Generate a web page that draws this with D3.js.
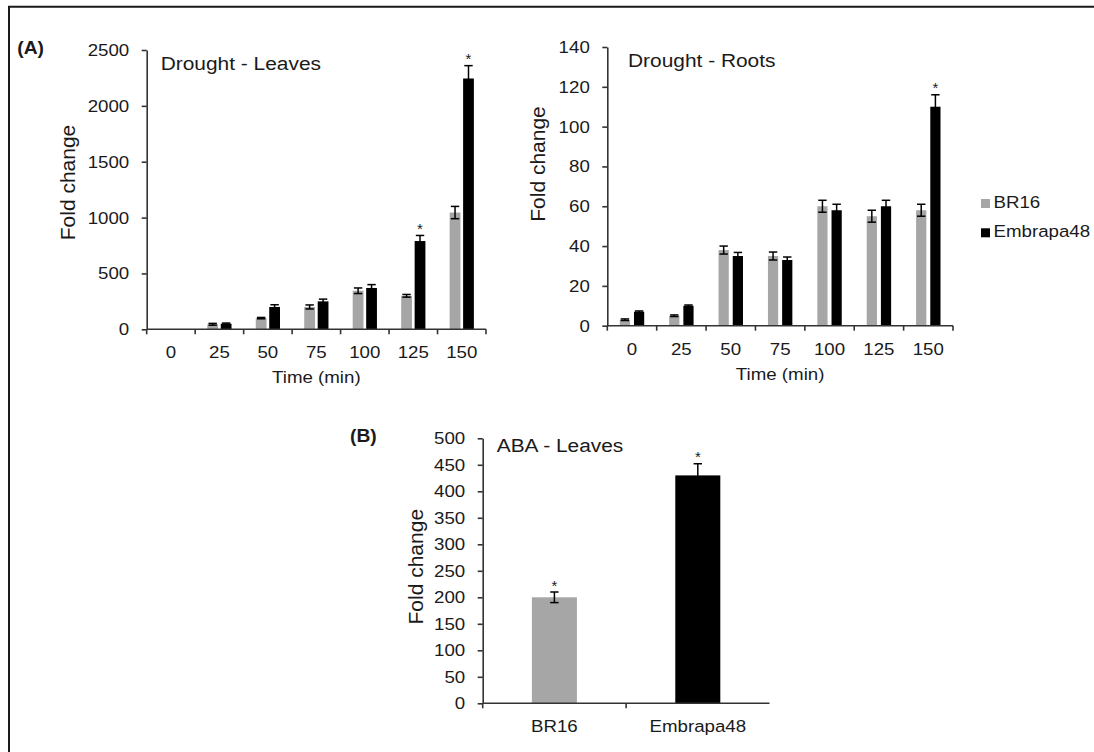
<!DOCTYPE html>
<html>
<head>
<meta charset="utf-8">
<script src="https://cdn.jsdelivr.net/npm/d3@7"></script>
<style>
  body { margin: 0; background: #fff; }
  text { font-family: "Liberation Sans", Arial, sans-serif; fill: #1a1a1a; }
</style>
</head>
<body>
<script>
// data
const times = ["0", "25", "50", "75", "100", "125", "150"];
const series = ["BR16", "Embrapa48"];

const leavesBR16 = [1, 45, 100, 200, 345, 300, 1045];
const leavesBR16Err = [0, 8, 6, 18, 25, 12, 55];
const leavesEmb = [1, 50, 200, 250, 370, 790, 2245];
const leavesEmbErr = [0, 6, 20, 20, 30, 50, 115];
const leavesEmbSig = [0, 0, 0, 0, 0, 1, 1];

const rootsBR16 = [3, 5, 38, 35, 60, 55, 58];
const rootsBR16Err = [0.4, 0.4, 2, 2, 3, 3, 3];
const rootsEmb = [7, 10, 35, 33, 58, 60, 110];
const rootsEmbErr = [0.4, 0.4, 1.8, 1.5, 3, 3, 6];
const rootsEmbSig = [0, 0, 0, 0, 0, 0, 1];

const abaCats = ["BR16", "Embrapa48"];
const abaVals = [200, 430];
const abaErr = [10, 22];
const abaSig = [1, 1];

const colors = { BR16: "#a6a6a6", Embrapa48: "#000000" };
const STRETCH = 1.1; // the original text is a bit wider than Arial

const svg = d3.select("body").append("svg")
  .attr("width", 1094)
  .attr("height", 752);

// frame (only top and left edges are visible)
svg.append("path")
  .attr("d", "M9,752V6.8H1094")
  .attr("fill", "none")
  .attr("stroke", "#1a1a1a")
  .attr("stroke-width", 2);

function widen(sel) {
  sel.each(function () {
    const x = +(this.getAttribute("x") || 0);
    this.setAttribute("transform", `translate(${x * (1 - STRETCH)},0) scale(${STRETCH},1)`);
  });
}

function label(x, y, txt, size, opts = {}) {
  const t = svg.append("text")
    .attr("x", x)
    .attr("y", y)
    .attr("font-size", size)
    .attr("text-anchor", opts.anchor || "start")
    .attr("font-weight", opts.bold ? "bold" : null)
    .text(txt);
  widen(t);
  return t;
}

function yTitle(x, y) {
  svg.append("text")
    .attr("transform", `translate(${x},${y}) rotate(-90)`)
    .attr("text-anchor", "middle")
    .attr("font-size", 21)
    .text("Fold change");
}

function yAxis(g, y, x0, max, step) {
  const ax = g.append("g")
    .attr("transform", `translate(${x0},0)`)
    .call(d3.axisLeft(y)
      .tickValues(d3.range(0, max + 1, step))
      .tickFormat(d3.format("d"))
      .tickSize(5).tickSizeOuter(0).tickPadding(12.5));
  ax.selectAll("path,line").attr("stroke", "#333").attr("stroke-width", 1.6);
  ax.selectAll("text").attr("font-size", 17).attr("font-family", null).attr("fill", "#1a1a1a");
  widen(ax.selectAll("text"));
}

function xAxis(g, x, yb, endTick) {
  const ax = g.append("g")
    .attr("transform", `translate(0,${yb})`)
    .call(d3.axisBottom(x).tickSize(0).tickPadding(17));
  ax.select(".domain").remove();
  ax.selectAll("text").attr("font-size", 17).attr("font-family", null).attr("fill", "#1a1a1a");
  widen(ax.selectAll("text"));
  const [r0, r1] = x.range();
  g.append("line")
    .attr("x1", r0).attr("x2", r1)
    .attr("y1", yb).attr("y2", yb)
    .attr("stroke", "#333").attr("stroke-width", 1.6);
  const bounds = x.domain().map((c) => x(c) - x.step() * x.paddingOuter());
  if (endTick) bounds.push(r1);
  g.selectAll(".btick").data(bounds).enter().append("line")
    .attr("x1", (d) => d).attr("x2", (d) => d)
    .attr("y1", yb).attr("y2", yb + 5)
    .attr("stroke", "#333").attr("stroke-width", 1.6);
}

function errorBars(g, rows, y) {
  const eb = g.append("g").attr("stroke", "#000").attr("stroke-width", 1.5);
  rows.forEach((r) => {
    const top = y(r.v + r.e), bot = y(r.v - r.e);
    if (r.e > 0) {
      eb.append("line").attr("x1", r.cx).attr("x2", r.cx).attr("y1", top).attr("y2", bot);
      eb.append("line").attr("x1", r.cx - 4.2).attr("x2", r.cx + 4.2).attr("y1", top).attr("y2", top);
      eb.append("line").attr("x1", r.cx - 4.2).attr("x2", r.cx + 4.2).attr("y1", bot).attr("y2", bot);
    }
    if (r.sig) {
      g.append("text")
        .attr("x", r.cx)
        .attr("y", top - 1.5)
        .attr("text-anchor", "middle")
        .attr("font-size", 15)
        .attr("fill", "#404040")
        .text("*");
    }
  });
}

function groupedPanel(o) {
  const g = svg.append("g");
  const x = d3.scaleBand().domain(times).range([o.x0, o.x1]);
  const y = d3.scaleLinear().domain([0, o.max]).range([o.yb, o.yt]);
  const inner = d3.scaleBand().domain(series).range([0, x.bandwidth()])
    .paddingInner(o.pi).paddingOuter(o.po);

  const rows = [];
  times.forEach((t, i) => {
    rows.push({ t, s: "BR16", v: o.a[i], e: o.aErr[i], sig: 0 });
    rows.push({ t, s: "Embrapa48", v: o.b[i], e: o.bErr[i], sig: o.bSig[i] });
  });
  rows.forEach((r) => { r.cx = x(r.t) + inner(r.s) + inner.bandwidth() / 2; });

  g.selectAll(".bar").data(rows).enter().append("rect")
    .attr("x", (d) => x(d.t) + inner(d.s))
    .attr("y", (d) => y(d.v))
    .attr("width", inner.bandwidth())
    .attr("height", (d) => y(0) - y(d.v))
    .attr("fill", (d) => colors[d.s]);

  xAxis(g, x, o.yb, true);
  yAxis(g, y, o.x0, o.max, o.step);
  errorBars(g, rows, y);

  label(o.titleX, o.yt + 20, o.title, 19);
  label((o.x0 + o.x1) / 2, o.yb + 54, "Time (min)", 17, { anchor: "middle" });
  yTitle(o.yTitleX, o.yTitleY);
}

groupedPanel({
  x0: 146.7, x1: 486, yb: 329.3, yt: 50, max: 2500, step: 500,
  pi: 0.2, po: 0.9,
  a: leavesBR16, aErr: leavesBR16Err, b: leavesEmb, bErr: leavesEmbErr, bSig: leavesEmbSig,
  title: "Drought - Leaves", titleX: 160.7, yTitleX: 75, yTitleY: 182.5
});

groupedPanel({
  x0: 607.3, x1: 953, yb: 325.7, yt: 47, max: 140, step: 20,
  pi: 0.28, po: 0.88,
  a: rootsBR16, aErr: rootsBR16Err, b: rootsEmb, bErr: rootsEmbErr, bSig: rootsEmbSig,
  title: "Drought - Roots", titleX: 628, yTitleX: 545.3, yTitleY: 164
});

// ABA panel
(function () {
  const g = svg.append("g");
  const x0 = 482.7, x1 = 769.5, yb = 703.3, yt = 438.3;
  const x = d3.scaleBand().domain(abaCats).range([x0, x1]).paddingInner(0.686).paddingOuter(0.343);
  const y = d3.scaleLinear().domain([0, 500]).range([yb, yt]);
  const rows = abaCats.map((c, i) => ({ c, v: abaVals[i], e: abaErr[i], sig: abaSig[i], cx: x(c) + x.bandwidth() / 2 }));

  g.selectAll(".bar").data(rows).enter().append("rect")
    .attr("x", (d) => x(d.c))
    .attr("y", (d) => y(d.v))
    .attr("width", x.bandwidth())
    .attr("height", (d) => y(0) - y(d.v))
    .attr("fill", (d) => colors[d.c]);

  xAxis(g, x, yb, false);
  yAxis(g, y, x0, 500, 50);
  errorBars(g, rows, y);

  label(496.7, 452.3, "ABA - Leaves", 19);
  yTitle(423.3, 566.7);
})();

// panel letters
label(17.3, 54, "(A)", 17.5, { bold: true });
label(350, 442, "(B)", 17.5, { bold: true });

// legend
const legend = svg.append("g");
series.forEach((s, i) => {
  legend.append("rect")
    .attr("x", 981).attr("y", 199 + i * 29.3)
    .attr("width", 9).attr("height", 9)
    .attr("fill", colors[s]);
});
series.forEach((s, i) => label(993.5, 208 + i * 29, s, 17));
</script>
</body>
</html>
